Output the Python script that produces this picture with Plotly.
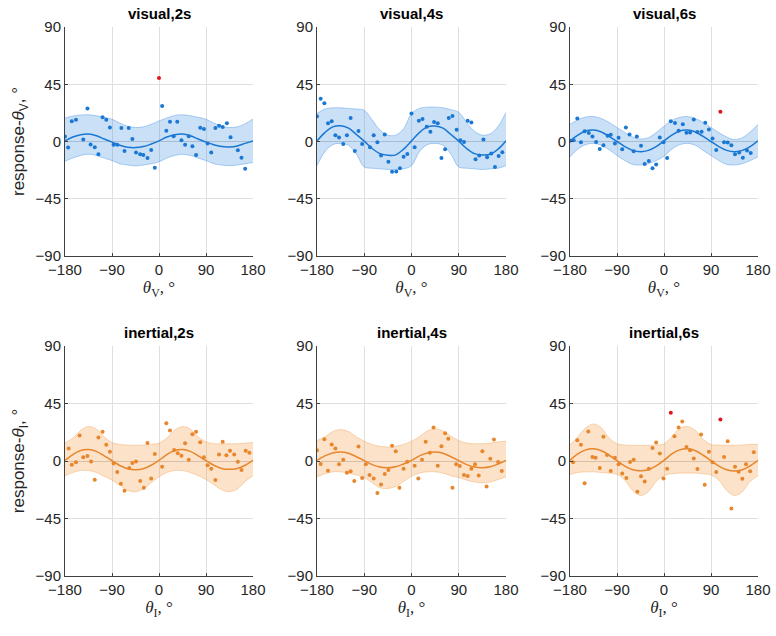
import plotly.graph_objects as go

# sample grid used for the fitted curve and the confidence band (read every 15 deg)
grid = [-180, -165, -150, -135, -120, -105, -90, -75, -60, -45, -30, -15, 0,
        15, 30, 45, 60, 75, 90, 105, 120, 135, 150, 165, 180]

# ---- visual, 2s
vis2_x = [-180, -174, -167, -159, -145, -137, -131, -123, -116, -108, -101, -94, -87, -80, -72, -66,
          -58, -51, -44, -36, -30, -22, -15, -8, 6, 14, 21, 28, 35, 43, 50, 57, 64, 71, 79, 86, 93,
          100, 108, 115, 122, 130, 137, 151, 158, 165]
vis2_y = [4, -4.8, 15.9, 17, 1.6, 26, -2.4, -4.5, -10, 19, 17, 11, -2.6, -2.6, 10.6, -7.4,
          10.6, 2, -8.7, -10, -10.6, -13, -6.6, -20.6, 28, 8.5, 15.6, 4.2, 15.6, 1, -2.6, 4.2, -3.7,
          -10.6, 10.8, 9.8, -1.6, -8.7, 10.6, 12.4, 11.4, 14.3, 3.4, -6.9, -12.7, -21.4]
vis2_out_x = [0]
vis2_out_y = [50]
vis2_fit = [0.5, 3.5, 5.3, 5.8, 4.5, 2, -0.5, -3, -4.5, -4.8, -4, -2, 0.5,
            3.5, 5.3, 5.8, 4.5, 2, -0.5, -2.5, -4, -4.3, -3.5, -1.5, 0.5]
vis2_hi = [18.5, 20, 20.8, 21, 20.3, 19, 17.5, 14.5, 12, 11, 11.5, 13.5, 16.2,
           18.5, 20.5, 21, 20.3, 19, 17.5, 14.5, 12, 11, 11.5, 14, 17.7]
vis2_lo = [-15.5, -13, -11, -10, -11, -13, -15, -17.5, -18.5, -19.2, -18.5, -17.5, -16,
           -13, -11, -10, -11, -13, -15, -17.5, -18.5, -19, -18.5, -17.5, -16.5]

# ---- visual, 4s
vis4_x = [-180, -173, -166, -159, -152, -145, -138, -130, -123, -116, -108, -101, -94, -79, -72, -65,
          -58, -51, -44, -37, -29, -22, -15, -8, 0, 6, 14, 21, 29, 36, 43, 50, 57, 64, 71, 78, 86,
          93, 100, 107, 114, 122, 129, 137, 144, 152, 159, 166, 173]
vis4_y = [19.8, 33.6, 30, 14.3, 16, 5, 3.2, -2, 5, 18.5, -7.4, 8.2, -2, -4.5, 5, -0.5,
          -11, 5.6, -16, -23.8, -23.5, -21, -12, -9.8, 22, -4.5, 16.4, 17.7, 11.6, 7.7, 15.3, 14.3,
          -13, -6, 18.5, 20, 9.3, 1, -0.3, 16.4, 15, -14, -11, 1.6, -12.4, -9.5, -20, -11.4, -8.5]
vis4_fit = [0.5, 7, 11.5, 12.4, 10.5, 5.5, 0.3, -5.5, -9.5, -10.8, -10.5, -6, 0.5,
            7, 11.5, 12.2, 10.5, 5.5, 0.3, -5.5, -9.5, -10.6, -10, -6, 0.5]
vis4_hi = [22, 25.5, 26.5, 26.5, 26, 25.5, 24.5, 17, 9, 5, 5, 10, 22,
           26, 27, 27, 26.5, 25, 23, 15, 8, 5, 6, 12, 23]
vis4_lo = [-19, -8, -2.5, -1.5, -3, -10, -20, -21, -21.5, -22, -22, -21.5, -19,
           -8, -2.5, -1.5, -3, -10, -20, -21, -21.5, -22, -21.5, -21, -19]

# ---- visual, 6s
vis6_x = [-180, -173, -166, -159, -152, -144, -137, -130, -123, -116, -108, -102, -94, -87, -80, -73,
          -66, -58, -52, -44, -37, -29, -22, -15, -8, -1, 6, 13, 21, 28, 36, 43, 50, 57, 64, 72,
          79, 86, 93, 100, 115, 122, 129, 136, 144, 151, 159, 166]
vis6_y = [0.5, 1, 18, -0.5, 8, 6.6, 4, -0.3, -5.8, -3, 4.5, 5.3, -1.6, 3, -6, 11,
          5.6, -7.7, 4, -3.4, -17.7, -15.3, -21, -18, 3.2, -0.5, -13, 16, 14.5, 8.5, 13.5, 6.9,
          7.1, 17.2, 7.4, 7.7, 14.8, 9.5, 2.4, -6.6, -0.5, -0.8, -3, -10, -8.7, -12.7, -7, -9]
vis6_out_x = [108]
vis6_out_y = [23.3]
vis6_fit = [0.5, 5, 8.3, 9, 7.5, 4, 0, -4, -7, -8, -7, -4, 0.5,
            5, 8.3, 9, 7.5, 4, 0, -4, -7, -8, -7, -4, 0.5]
vis6_hi = [13.5, 17, 19.3, 19.6, 18, 15, 11, 7, 3.5, 2, 3, 7, 12,
           16.5, 19, 19.6, 18, 15, 11, 7, 3.5, 1.5, 3, 7.5, 13.5]
vis6_lo = [-12, -6, -2.5, -1.5, -3, -6.5, -11, -15, -18, -18.5, -17.5, -15, -11.5,
           -6, -2.5, -1.5, -3, -7, -11, -15, -18, -18.5, -17.5, -15, -12]

# ---- inertial, 2s
ine2_x = [-173, -167, -159, -152, -145, -137, -130, -123, -116, -108, -101, -94, -87, -80, -73, -66,
          -57, -51, -44, -36, -29, -22, -15, -8, 6, 14, 21, 29, 36, 43, 50, 57, 64, 71, 79, 86,
          93, 100, 108, 115, 122, 129, 136, 144, 151, 158, 166, 173]
ine2_y = [9.7, -2.9, -1, 20, 3, 4, -0.3, -14.7, 18.3, 22.8, 12.8, 7.3, -2, -8.6, -17.8, -23.3,
          -5.5, -1.6, -0.3, -15.7, -21, 14.1, -13.6, 5.5, -4.5, 29.6, 23.8, 8.6, 6, 4.2, 13.9, 1,
          21, 22.8, 14.7, 2.9, -3.4, -6, -14.9, 5, 15, 4.5, 8.1, 5, -0.5, -7, 8.1, 6.5]
ine2_fit = [0.5, 5, 8.2, 9, 7.5, 4, 0.3, -3.5, -6, -6.8, -6, -3.3, 0.5,
            5, 8.2, 9, 7.5, 4, 0.3, -3.3, -5.8, -6.5, -5.8, -3.3, 0.5]
ine2_hi = [14, 18, 24, 27, 25, 19, 14.5, 13, 12.5, 12.3, 12.5, 13, 14,
           18, 24, 27, 25, 19, 15, 13.5, 13.5, 13.5, 13.5, 14, 14.5]
ine2_lo = [-11.5, -9, -7.5, -7.5, -9, -12, -15, -19, -23, -24, -22, -17, -12.5,
           -9, -7.5, -7.5, -9, -11.5, -14.5, -18.5, -22.5, -24, -22, -16, -11.5]

# ---- inertial, 4s
ine4_x = [-180, -173, -166, -159, -152, -145, -138, -130, -123, -116, -109, -101, -94, -87, -80, -72,
          -65, -58, -51, -44, -37, -30, -23, -15, -8, 6, 13, 20, 27, 35, 42, 50, 57, 64, 70, 78,
          85, 92, 100, 107, 114, 121, 128, 135, 143, 150, 157, 165, 172]
ine4_y = [8.4, -2.4, 17, -7.6, 13, 9.7, -2.6, 1, -9.2, -8, -15.7, 11.3, -13.4, -2.6, -11, -13.6,
          -25, -18.3, -10.2, -7, 12, 7.6, -21, -6, -0.5, -3.7, -13.6, 1, 15, 6.5, 26.2, -3.7,
          11.5, 21.7, 17.5, -21, -2.6, -4, -11, -11.8, -6, -2.6, -11.3, 7.6, -20, 1.8, 16.8, -0.8, -7.9]
ine4_fit = [0.5, 4, 6.3, 7, 6, 3.3, 0.3, -2.8, -4.7, -5.2, -4.5, -2.3, 0.5,
            4, 6.3, 7, 6, 3.3, 0.3, -2.8, -4.7, -5.2, -4.5, -2.3, 0.5]
ine4_hi = [16, 19, 23, 24.6, 23, 19, 15.5, 13, 11.5, 11, 11.5, 13, 15.5,
           19, 23.5, 25.3, 23.5, 19.5, 16, 14, 13.5, 13.5, 14, 15, 15.5]
ine4_lo = [-12.5, -10, -8.5, -8.5, -9.5, -11, -13, -17, -21, -21.5, -20, -16, -12,
           -9.5, -8.5, -8.5, -9.5, -11.5, -13, -15, -16.5, -17, -16.5, -14.5, -12.5]

# ---- inertial, 6s
ine6_x = [-174, -166, -159, -152, -145, -137, -131, -123, -116, -109, -102, -94, -87, -80, -72, -65,
          -58, -51, -44, -37, -29, -22, -15, -8, -1, 6, 20, 28, 35, 43, 50, 57, 64, 71, 78, 86,
          93, 100, 115, 122, 129, 136, 143, 150, 157, 165, 172]
ine6_y = [-1, 16.2, 12.8, -17.5, 23, 3.1, 2.6, -5.5, 19, 4.7, -7.9, 2.6, -2.6, -9.7, -13.4, -0.8,
          1, -24, -12, -16, -6, 10.2, 14.4, 5.8, -13.6, -6, 19.4, 26.2, 31, 11, 8.4, 2,
          -6.3, 20.7, -18.6, 7.3, -1, -8.6, 3.1, 15.4, -37.2, -4.5, -8.4, -13.9, -2.6, -8.1, 6.8]
ine6_out_x = [13, 108]
ine6_out_y = [37.7, 32.5]
ine6_fit = [0.5, 5.5, 8.7, 9.5, 8, 4.5, 0.3, -4, -6.8, -7.6, -6.8, -3.8, 0.5,
            5.5, 8.7, 9.5, 8, 4.5, 0.3, -4, -6.8, -7.8, -6.8, -3.8, 0.5]
ine6_hi = [12.5, 19, 26, 29, 26, 18, 13.5, 12.5, 12.3, 12.3, 12.3, 12.5, 13.5,
           19, 25.5, 27, 24, 17, 13, 12.5, 12.3, 12.3, 12.5, 13, 13]
ine6_lo = [-10.5, -9, -8.5, -8.5, -9, -9.5, -10.5, -15, -23, -27, -24, -16, -11.5,
           -10, -9.5, -9.5, -9.5, -10, -11, -15, -23, -27, -24, -16, -11.5]

titles = ["visual,2s", "visual,4s", "visual,6s", "inertial,2s", "inertial,4s", "inertial,6s"]
ticks = [-180, -90, 0, 90, 180]
yticks = [-90, -45, 0, 45, 90]

BLUE = "#1a78d4"
ORANGE = "#e8862c"
RED = "#e0141e"
W, H = 776, 636

panels = [
    (vis2_x, vis2_y, vis2_out_x, vis2_out_y, vis2_fit, vis2_hi, vis2_lo),
    (vis4_x, vis4_y, [], [], vis4_fit, vis4_hi, vis4_lo),
    (vis6_x, vis6_y, vis6_out_x, vis6_out_y, vis6_fit, vis6_hi, vis6_lo),
    (ine2_x, ine2_y, [], [], ine2_fit, ine2_hi, ine2_lo),
    (ine4_x, ine4_y, [], [], ine4_fit, ine4_hi, ine4_lo),
    (ine6_x, ine6_y, ine6_out_x, ine6_out_y, ine6_fit, ine6_hi, ine6_lo),
]

# panel boxes in pixels (left, right, top, bottom)
cols = [(65, 253), (317, 506), (570, 758)]
rows = [(27, 256), (346, 576)]

fig = go.Figure()
layout = dict(width=W, height=H, margin=dict(l=0, r=0, t=0, b=0, autoexpand=False),
              paper_bgcolor="white", plot_bgcolor="white", showlegend=False,
              font=dict(family="Liberation Sans, Arial, sans-serif", size=14, color="#262626"))
annotations = []

for i, (px, py, ox, oy, fit, hi, lo) in enumerate(panels):
    r, c = divmod(i, 3)
    n = "" if i == 0 else str(i + 1)
    xa, ya = "x" + n, "y" + n
    col = BLUE if r == 0 else ORANGE
    fill = "rgba(40,130,225,0.25)" if r == 0 else "rgba(240,150,60,0.28)"
    edge = "rgba(40,130,225,0.35)" if r == 0 else "rgba(240,150,60,0.35)"

    fig.add_trace(go.Scatter(x=grid, y=lo, mode="lines", line=dict(color=edge, width=1, shape="spline"),
                             xaxis=xa, yaxis=ya, hoverinfo="skip"))
    fig.add_trace(go.Scatter(x=grid, y=hi, mode="lines", fill="tonexty", fillcolor=fill,
                             line=dict(color=edge, width=1, shape="spline"),
                             xaxis=xa, yaxis=ya, hoverinfo="skip"))
    fig.add_trace(go.Scatter(x=grid, y=fit, mode="lines", line=dict(color=col, width=1.5, shape="spline"),
                             xaxis=xa, yaxis=ya))
    fig.add_trace(go.Scatter(x=px, y=py, mode="markers", marker=dict(color=col, size=4),
                             xaxis=xa, yaxis=ya))
    if ox:
        fig.add_trace(go.Scatter(x=ox, y=oy, mode="markers", marker=dict(color=RED, size=4),
                                 xaxis=xa, yaxis=ya))

    x0, x1 = cols[c]
    y0, y1 = rows[r]
    sub = "V" if r == 0 else "I"
    layout["xaxis" + n] = dict(
        domain=[x0 / W, x1 / W], anchor=ya, range=[-180, 180], tickvals=ticks,
        showgrid=True, gridcolor="#dfdfdf", gridwidth=1, zeroline=False, automargin=False,
        showline=True, linecolor="#404040", linewidth=1, ticks="inside", ticklen=3, tickcolor="#404040",
        tickfont=dict(size=15), fixedrange=True,
        title=dict(text="<i>θ</i><sub>" + sub + "</sub>, °",
                   font=dict(size=17, family="Liberation Serif, Times New Roman, serif"), standoff=4))
    layout["yaxis" + n] = dict(
        domain=[1 - y1 / H, 1 - y0 / H], anchor=xa, range=[-90, 90], tickvals=yticks,
        showgrid=True, gridcolor="#dfdfdf", gridwidth=1, zeroline=True, zerolinecolor="#cfcfcf",
        zerolinewidth=1, automargin=False,
        showline=True, linecolor="#404040", linewidth=1, ticks="inside", ticklen=3, tickcolor="#404040",
        tickfont=dict(size=15), fixedrange=True)
    if c == 0:
        layout["yaxis" + n]["title"] = dict(text="response-<i>θ</i><sub>" + sub + "</sub>, °",
                                            font=dict(size=17), standoff=6)
    annotations.append(dict(text="<b>" + titles[i] + "</b>", x=(x0 + x1) / 2 / W, y=1 - (y0 - 14) / H,
                            xref="paper", yref="paper", xanchor="center", yanchor="middle",
                            showarrow=False, font=dict(size=15, color="black")))

layout["annotations"] = annotations
fig.update_layout(**layout)
# drop the browser's default 8px body margin so the figure fills the window exactly
fig.write_html("out.html", config={"displayModeBar": False},
               post_script="document.body.style.margin='0';")
